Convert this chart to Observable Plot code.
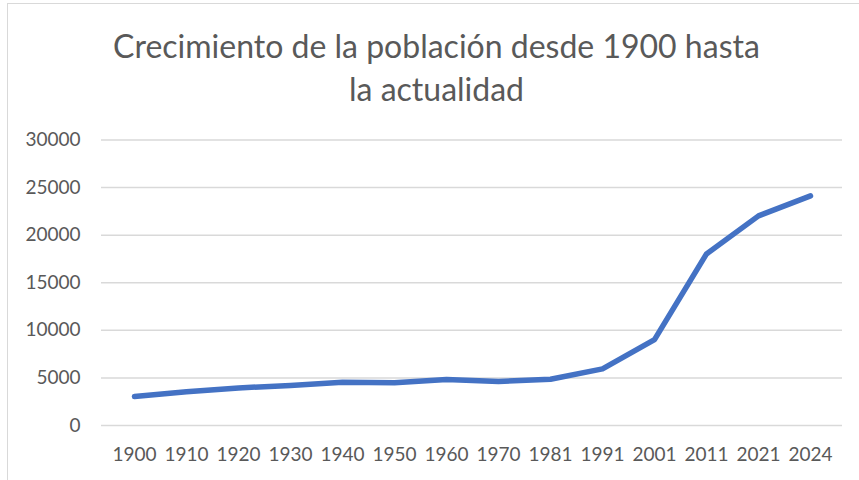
<!DOCTYPE html>
<html>
<head>
<meta charset="utf-8">
<script src="https://cdn.jsdelivr.net/npm/d3@7"></script>
<script src="https://cdn.jsdelivr.net/npm/@observablehq/plot@0.6"></script>
<style>
  html, body { margin: 0; padding: 0; background: #fff; }
  #wrap { position: relative; width: 859px; height: 480px; overflow: hidden; font-family: Lato, "Open Sans", sans-serif; }
  #frame { position: absolute; left: 7px; top: 3px; width: 900px; height: 600px; border: 1.5px solid #d9d9d9; box-sizing: border-box; }
  #title { position: absolute; left: 0; top: 24px; width: 873px; text-align: center; color: #595959; font-size: 32px; line-height: 43px; }
  #chart { position: absolute; left: 0; top: 115px; }
</style>
</head>
<body>
<div id="wrap">
  <div id="frame"></div>
  <div id="title">Crecimiento de la población desde 1900 hasta<br>la actualidad</div>
  <div id="chart"></div>
</div>
<script>
const years = ["1900","1910","1920","1930","1940","1950","1960","1970","1981","1991","2001","2011","2021","2024"];
const population = [3050, 3550, 3950, 4200, 4550, 4480, 4830, 4620, 4860, 5950, 9030, 18030, 22030, 24130];
const yTicks = [0, 5000, 10000, 15000, 20000, 25000, 30000];

const data = years.map((y, i) => ({year: y, value: population[i]}));

const chart = Plot.plot({
  width: 859,
  height: 365,
  marginLeft: 101,
  marginRight: 17,
  marginTop: 24.5,
  marginBottom: 55,
  style: {fontFamily: "Lato, 'Open Sans', sans-serif", fontSize: "19px", color: "#595959", background: "transparent", overflow: "visible"},
  x: {type: "point", domain: years, padding: 0.5, label: null, tickSize: 0, tickPadding: 22},
  y: {domain: [0, 30000], ticks: yTicks, label: null, tickSize: 0, tickPadding: 21, tickFormat: d => String(d)},
  marks: [
    Plot.ruleY(yTicks, {stroke: "#d9d9d9", strokeWidth: 1.5}),
    Plot.axisY({ticks: yTicks, tickSize: 0, tickPadding: 21, tickFormat: d => String(d), label: null, fill: "#595959"}),
    Plot.axisX({tickSize: 0, tickPadding: 22, label: null, fill: "#595959"}),
    Plot.line(data, {x: "year", y: "value", stroke: "#4472C4", strokeWidth: 5.5, strokeLinecap: "round", strokeLinejoin: "round"})
  ]
});
document.getElementById("chart").appendChild(chart);
</script>
</body>
</html>
